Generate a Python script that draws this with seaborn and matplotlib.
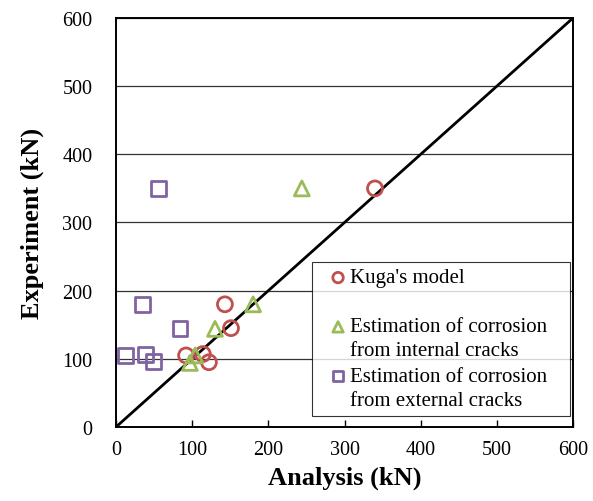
import numpy as np
import pandas as pd
import matplotlib
matplotlib.use("Agg")
import matplotlib.pyplot as plt
import seaborn as sns

# Donnees (kN)
kuga_analysis = [340, 92, 114, 122, 143, 151]
kuga_experiment = [350, 105, 107, 95, 180, 145]

internal_analysis = [244, 104, 97, 130, 180]
internal_experiment = [350, 105, 94, 144, 180]

external_analysis = [56, 12, 39, 49, 35, 84]
external_experiment = [350, 105, 107, 96, 180, 145]

labels = [
    "Kuga's model\n",
    "Estimation of corrosion\nfrom internal cracks",
    "Estimation of corrosion\nfrom external cracks",
]
colors = ["#C0504D", "#9BBB59", "#8064A2"]
markers = ["o", "^", "s"]

sns.set_theme(style="white")
plt.rcParams["font.family"] = ["Liberation Serif", "DejaVu Serif"]
plt.rcParams["text.color"] = "black"
plt.rcParams["axes.labelcolor"] = "black"
plt.rcParams["xtick.color"] = "black"
plt.rcParams["ytick.color"] = "black"

fig = plt.figure(figsize=(5.93, 5.02), dpi=100)
ax = fig.add_axes([0.1956, 0.1474, 0.7707, 0.8148])

series = [
    (kuga_analysis, kuga_experiment),
    (internal_analysis, internal_experiment),
    (external_analysis, external_experiment),
]
for (xs, ys), lab, col, mk in zip(series, labels, colors, markers):
    df = pd.DataFrame({"Analysis": xs, "Experiment": ys})
    sns.scatterplot(
        data=df, x="Analysis", y="Experiment", ax=ax, marker=mk, s=115,
        facecolors="none", edgecolor=col, linewidth=2, label=lab, zorder=3,
    )

# droite y = x
ax.plot([0, 600], [0, 600], color="black", lw=2, zorder=2)

ax.set_xlim(0, 600)
ax.set_ylim(0, 600)
ax.set_xticks(np.arange(0, 601, 100))
ax.set_yticks(np.arange(0, 601, 100))
ax.yaxis.grid(True, color="#333333", lw=0.9)
ax.xaxis.grid(False)
for sp in ax.spines.values():
    sp.set_color("black")
    sp.set_linewidth(1.4)
ax.tick_params(axis="x", direction="in", length=5, width=1,
               labelsize=14.5, pad=9, bottom=True)
ax.tick_params(axis="y", length=0, labelsize=14.5, pad=17, left=True)

ax.set_xlabel("Analysis (kN)", fontsize=19, fontweight="bold", labelpad=5)
ax.set_ylabel("Experiment (kN)", fontsize=19, fontweight="bold", labelpad=13)

leg = ax.legend(
    loc="lower left", bbox_to_anchor=(0.4289, 0.0269, 0.5645, 0.3),
    mode="expand", borderaxespad=0, fontsize=15,
    frameon=True, fancybox=False, edgecolor="black", handletextpad=-0.4,
    handlelength=1.9, handleheight=1.0, labelspacing=0.3, borderpad=0.3,
    markerscale=0.7,
)
leg.get_frame().set_linewidth(0.8)
for t in leg.get_texts():
    t.set_linespacing(1.36)
# marqueurs alignes sur la premiere ligne du libelle
for col_box in leg._legend_handle_box.get_children():
    for row in col_box.get_children():
        row.align = "top"

fig.savefig("out.png", dpi=100)
